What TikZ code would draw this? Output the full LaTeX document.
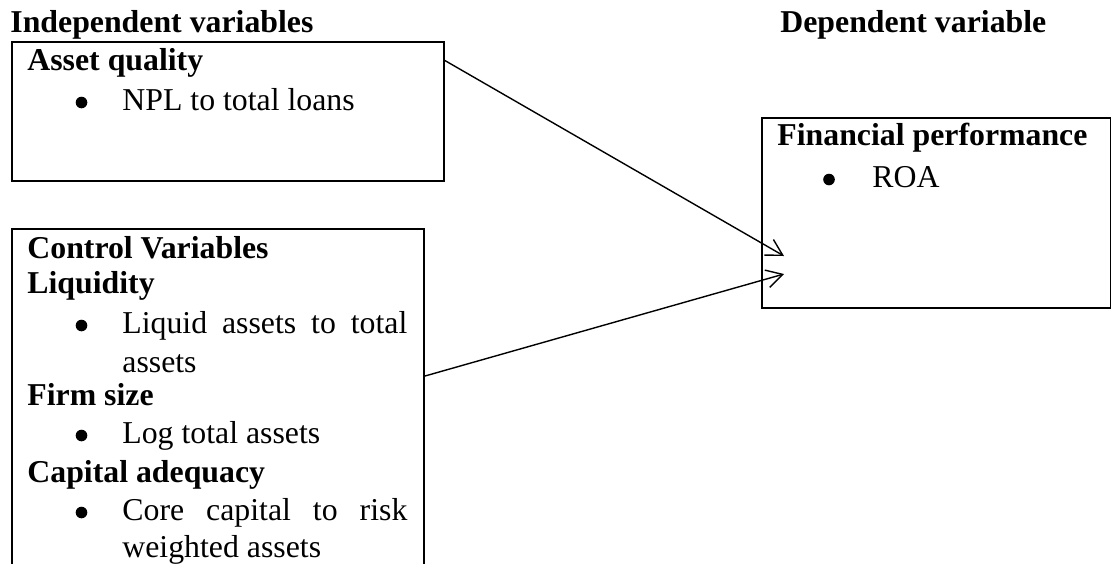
\documentclass[tikz,border=0pt]{standalone}
\usepackage{fontspec}
\setmainfont{Liberation Serif}
\usetikzlibrary{arrows.meta,calc}
\newcommand\fsz{\fontsize{15.9}{18}\selectfont}
\begin{document}
\begin{tikzpicture}[x=0.5pt,y=-0.5pt,
  box/.style={draw, line width=1pt, inner sep=0pt, anchor=north west},
  head/.style={anchor=base west, inner sep=0pt, font=\bfseries\fsz},
  item/.style={anchor=base west, inner sep=0pt, font=\fsz},
  dot/.style={circle, fill, inner sep=0pt, minimum size=5.8pt},
  conn/.style={line width=0.7pt, -{Straight Barb[length=8pt,width=9pt,line width=0.7pt]}}]
\useasboundingbox (0,0) rectangle (1111,563);
\clip (0,0) rectangle (1111,563);
% boxes
\node[box, minimum width=216pt, minimum height=69.5pt] (aq) at (11,41) {};
\node[box, minimum width=206pt, minimum height=200pt] (cv) at (11,228) {};
\node[box, minimum width=174.5pt, minimum height=95pt] (fp) at (761,117) {};
% headers
\node[head] (iv) at (10,32) {Independent variables};
\node[head] (dv) at (780,32) {Dependent variable};
% asset quality
\node[head] (aqh) at (27,70) {Asset quality};
\node[dot] (b1) at (81.5,102.5) {};
\node[item] (npl) at (122,110) {NPL to total loans};
% financial performance
\node[head] (fph) at (777,145) {Financial performance};
\node[dot] (b2) at (829,179.5) {};
\node[item] (roa) at (872,187) {ROA};
% control variables
\node[head] (cvh) at (27,258) {Control Variables};
\node[head] (liqh) at (27,293) {Liquidity};
\node[dot] (b3) at (81.5,325.5) {};
\node[item] (liq1) at (122,333) {\makebox[142.5pt][s]{Liquid assets to total}};
\node[item] (liq2) at (122,372) {assets};
\node[head] (fsh) at (27,405) {Firm size};
\node[dot] (b4) at (81.5,435.5) {};
\node[item] (fs1) at (122,443) {Log total assets};
\node[head] (cah) at (27,482) {Capital adequacy};
\node[dot] (b5) at (81.5,512.5) {};
\node[item] (ca1) at (122,520) {\makebox[142.5pt][s]{Core capital to risk}};
\node[item] (ca2) at (122,557) {weighted assets};
% connectors
\coordinate (t1) at (784,256);
\coordinate (t2) at (784,274);
\draw[conn] ($(aq.north east)+(-1,19)$) -- (t1);
\draw[conn] ($(cv.north east)+(0,148)$) -- (t2);
\end{tikzpicture}
\end{document}
